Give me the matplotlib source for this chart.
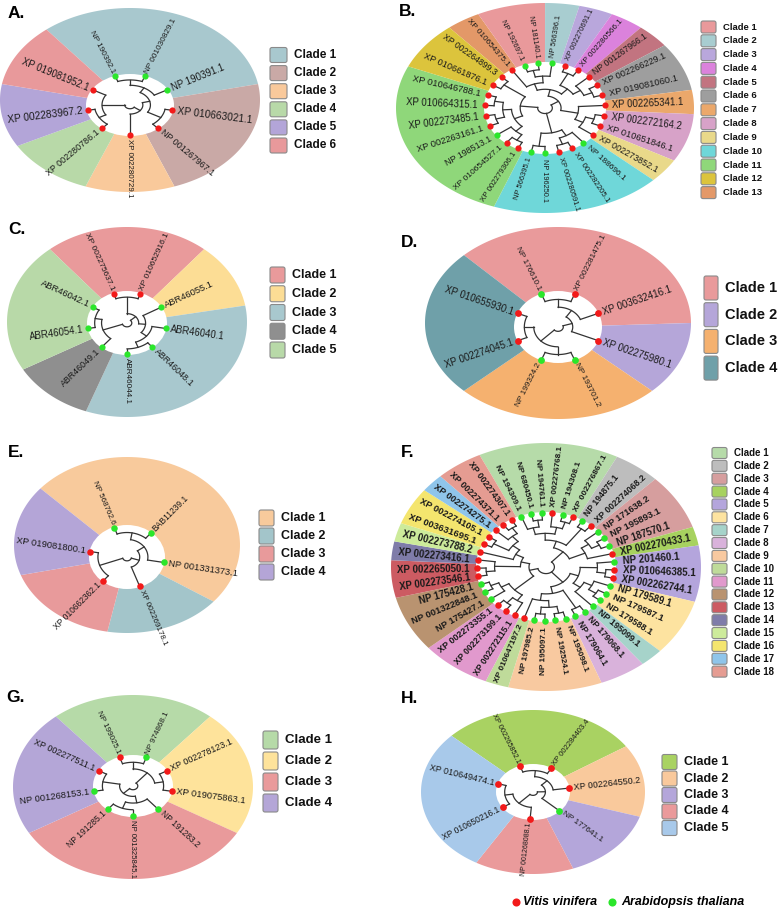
import numpy as np
import matplotlib.pyplot as plt
from matplotlib.patches import Polygon, Ellipse, FancyBboxPatch

plt.rcParams['font.family'] = ['Liberation Sans', 'DejaVu Sans']

# 物种颜色: V = Vitis vinifera, A = Arabidopsis thaliana
SP_COLOR = {'V': '#F21A1A', 'A': '#2BE62B'}
NARROW = ['Liberation Sans Narrow', 'Liberation Sans', 'DejaVu Sans']

# ---------------- A ----------------
a_labels = ['NP 190392.1', 'NP 001030829.1', 'NP 190391.1', 'XP 010663021.1', 'NP 001267967.1',
            'XP 002280729.1', 'XP 002280786.1', 'XP 002283967.2', 'XP 019081952.1']
a_species = 'AAAVVVVVV'
a_clades = [1, 1, 1, 2, 2, 3, 4, 5, 6]
a_colors = ['#A8C8CE', '#C9A9A6', '#F9C99B', '#B8D9A8', '#B3A5D8', '#E8999B']
a_tree = (((((0, 1), 2), (3, 4)), 5), ((6, 7), 8))

# ---------------- B ----------------
b_labels = ['XP 010654375.1', 'NP 192697.1', 'NP 181140.1', 'NP 566396.1', 'XP 002270691.1',
            'XP 002280566.1', 'NP 001267966.1', 'XP 002266229.1', 'XP 019081060.1', 'XP 002265341.1',
            'XP 002272164.2', 'XP 010651846.1', 'XP 002273852.1', 'NP 188696.1', 'XP 002282205.1',
            'XP 002280591.1', 'NP 196250.1', 'NP 566395.1', 'XP 002279306.1', 'XP 010654527.1',
            'NP 198513.1', 'XP 002263161.1', 'XP 002273485.1', 'XP 010664315.1', 'XP 010646788.1',
            'XP 010661876.1', 'XP 002264899.3']
b_species = 'VAAAVVVVVVVVVAVVAAVVAVVVVVV'
b_clades = [13, 1, 1, 2, 3, 4, 5, 6, 6, 7, 8, 8, 9, 10, 10, 10, 10, 10,
            11, 11, 11, 11, 11, 11, 11, 12, 12]
b_colors = ['#E9999B', '#A8CDD0', '#B9A7DC', '#DB82DC', '#C27480', '#9E9E9E', '#EBA86B',
            '#D7A2C8', '#E9D98A', '#6FD7D9', '#8FD77A', '#DCC43C', '#E39868']
b_tree = ((((0, ((1, 2), 3)), ((4, 5), (6, (7, 8)))), (9, ((10, 11), 12))),
          ((13, (14, 15)), (16, 17)),
          ((((18, 19), 20), ((21, 22), (23, 24))), (25, 26)))

# ---------------- C ----------------
c_labels = ['XP 002275637.1', 'XP 010652916.1', 'ABR46055.1', 'ABR46040.1', 'ABR46048.1',
            'ABR46044.1', 'ABR46049.1', 'ABR46054.1', 'ABR46042.1']
c_species = 'VVAAAAAAA'
c_clades = [1, 1, 2, 3, 3, 3, 4, 5, 5]
c_colors = ['#E99A9B', '#FCDD95', '#A8C8CE', '#8F8F8F', '#B8D9A8']
c_tree = (((0, 1), (2, (3, (4, 5)))), (6, (7, 8)))

# ---------------- D ----------------
d_labels = ['NP 176610.1', 'XP 002281475.1', 'XP 003632416.1', 'XP 002275980.1', 'NP 193701.2',
            'NP 199324.2', 'XP 002274045.1', 'XP 010655930.1']
d_species = 'AVVVAAVV'
d_clades = [1, 1, 1, 2, 3, 3, 4, 4]
d_colors = ['#E99A9B', '#B5A6D9', '#F5B16F', '#6FA0A9']
d_tree = ((((0, 1), 2), 3), ((4, 5), (6, 7)))

# ---------------- E ----------------
e_labels = ['NP 568762.6', 'BAB11239.1', 'NP 001331373.1', 'XP 002269178.1', 'XP 010662362.1',
            'XP 019081800.1']
e_species = 'AAAVVV'
e_clades = [1, 1, 1, 2, 3, 4]
e_colors = ['#F8CA9C', '#A3C5CA', '#E89A9B', '#B4A5D7']
e_tree = ((((0, 1), 2), 3), (4, 5))

# ---------------- F ----------------
f_labels = ['NP 194309.1', 'NP 680450.1', 'NP 194761.1', 'XP 002276768.1', 'NP 194308.1',
            'XP 002276867.1', 'NP 194875.1', 'XP 002274068.2', 'NP 171638.2', 'NP 195893.1',
            'NP 187570.1', 'XP 002270433.1', 'NP 201460.1', 'XP 010646385.1', 'XP 002262744.1',
            'NP 179589.1', 'NP 179587.1', 'NP 179588.1', 'NP 195099.1', 'NP 179068.1',
            'NP 179064.1', 'NP 195098.1', 'NP 192524.1', 'NP 195097.1', 'NP 197985.2',
            'XP 010647197.2', 'XP 002272115.1', 'XP 002273199.1', 'XP 002273355.1', 'NP 175427.1',
            'NP 001322848.1', 'NP 175428.1', 'XP 002273546.1', 'XP 002265050.1', 'XP 002273416.1',
            'XP 002273788.2', 'XP 003631695.1', 'XP 002274105.1', 'XP 002274275.1', 'XP 002274371.1',
            'XP 002274307.1']
f_species = 'AAAVAVAVAAAVAVVAAAAAAAAAAVVVVAAAVVVVVVVVV'
f_clades = [1, 1, 1, 1, 1, 1, 2, 2, 3, 3, 3, 4, 5, 5, 5, 6, 6, 6, 7, 8, 8, 9, 9, 9, 9,
            10, 11, 11, 11, 12, 12, 12, 13, 13, 14, 15, 16, 16, 17, 18, 18]
f_colors = ['#B6DBA9', '#BDBDBD', '#D69E9E', '#A7D25F', '#B4A5DC', '#FDE3A0', '#A6D3CA',
            '#D9B2DB', '#F8C9A0', '#BFDB9A', '#E199CD', '#B99370', '#CC5B62', '#7F7CA9',
            '#CDEB9B', '#F4E56E', '#8FC5EA', '#E59C92']
f_tree = (((((0, (1, 2)), (3, (4, 5))), (6, 7)), ((8, (9, 10)), 11)),
          (((12, (13, 14)), ((15, (16, 17)), 18)), ((19, 20), (((21, 22), (23, 24)), 25))),
          (((26, (27, 28)), (29, (30, 31))),
           (((32, 33), 34), (35, ((36, 37), (38, (39, 40)))))))

# ---------------- G ----------------
g_labels = ['NP 199025.1', 'NP 974868.1', 'XP 002278123.1', 'XP 019075863.1', 'NP 191283.2',
            'NP 001325845.1', 'NP 191285.1', 'NP 001268153.1', 'XP 002277511.1']
g_species = 'VAVVAAAAV'
g_clades = [1, 1, 2, 2, 3, 3, 3, 4, 4]
g_colors = ['#B6DAA8', '#FEE39B', '#E99A9B', '#B4A6D7']
g_tree = (((0, 1), (2, 3)), ((4, (5, 6)), (7, 8)))

# ---------------- H ----------------
h_labels = ['XP 002265852.1', 'XP 002284403.4', 'XP 002264550.2', 'NP 177641.1', 'NP 001268088.1',
            'XP 010650216.1', 'XP 010649474.1']
h_species = 'VVVAVVV'
h_clades = [1, 1, 2, 3, 4, 5, 5]
h_colors = ['#A9D262', '#F9C99C', '#B4A6DA', '#EA9A9B', '#A8C9EA']
h_tree = ((((0, 1), 2), 3), (4, (5, 6)))

# 版面布局 (像素坐标)
# cx, cy, rx, ry: 外圈; cyi, rxi, ryi: 内圈; start: 第一个叶子的角度
LAYOUT = {
    'A': dict(cx=130, cy=100, rx=130, ry=92, cyi=105, rxi=44, ryi=31, start=110, fs=7.3, fw='normal', dot=20,
              lx=270, ly=55, ldy=18.1, lw=17, lh=15, lfs=8.5, lfam=None, px=8, py=6),
    'B': dict(cx=545, cy=108, rx=149, ry=105, cyi=108, rxi=61, ryi=46, start=123.3, fs=6.9, fw='normal', dot=20,
              lx=701, ly=27, ldy=13.8, lw=15, lh=12, lfs=6.8, lfam=None, px=399, py=4),
    'C': dict(cx=127, cy=322, rx=120, ry=95, cyi=323, rxi=40, ryi=32, start=110, fs=7.0, fw='normal', dot=20,
              lx=270, ly=275, ldy=18.75, lw=15, lh=16, lfs=9, lfam=NARROW, px=8, py=222),
    'D': dict(cx=558, cy=323, rx=133, ry=96, cyi=327, rxi=44, ryi=36, start=112.5, fs=7.2, fw='normal', dot=24,
              lx=704, ly=288, ldy=26.7, lw=14, lh=24, lfs=10.5, lfam=NARROW, px=401, py=235),
    'E': dict(cx=127, cy=545, rx=113, ry=88, cyi=557, rxi=38, ryi=32, start=110, fs=6.8, fw='normal', dot=22,
              lx=259, ly=518, ldy=18, lw=15, lh=16, lfs=9, lfam=NARROW, px=8, py=445),
    'F': dict(cx=546, cy=567, rx=155, ry=124, cyi=567, rxi=70, ryi=55, start=111, fs=7.0, fw='bold', dot=22,
              lx=712, ly=453, ldy=12.86, lw=15, lh=11, lfs=7, lfam=None, px=401, py=445),
    'G': dict(cx=133, cy=787, rx=120, ry=92, cyi=786, rxi=40, ryi=31, start=110, fs=6.8, fw='normal', dot=22,
              lx=263, ly=740, ldy=21, lw=15, lh=18, lfs=9.5, lfam=NARROW, px=6, py=690),
    'H': dict(cx=533, cy=792, rx=112, ry=82, cyi=792, rxi=37, ryi=28, start=111, fs=6.5, fw='normal', dot=24,
              lx=662, ly=762, ldy=16.5, lw=15, lh=15, lfs=9, lfam=NARROW, px=401, py=691),
}

R_LEAF = 0.98
R_ROOT = 0.12


def tree_height(t):
    if isinstance(t, int):
        return 0
    return 1 + max(tree_height(c) for c in t)


def draw_panel(ax, letter, labels, species, clades, colors, tree):
    g = LAYOUT[letter]
    cx, cy, rx, ry = g['cx'], g['cy'], g['rx'], g['ry']
    cyi, rxi, ryi = g['cyi'], g['rxi'], g['ryi']
    asp = ry / rx
    n = len(labels)
    step = 360.0 / n
    ang = [g['start'] - i * step for i in range(n)]

    def pt(r, a):
        t = np.radians(a)
        return cx + r * rxi * np.cos(t), cyi - r * ryi * np.sin(t)

    # 分支扇区
    i = 0
    while i < n:
        j = i
        while j + 1 < n and clades[j + 1] == clades[i]:
            j += 1
        th = np.radians(np.linspace(ang[i] + step / 2, ang[j] - step / 2, 80))
        xs = np.concatenate([[cx], cx + rx * np.cos(th)])
        ys = np.concatenate([[cyi], cy - ry * np.sin(th)])
        ax.add_patch(Polygon(np.column_stack([xs, ys]), closed=True,
                             fc=colors[clades[i] - 1], ec='none', zorder=1))
        i = j + 1
    ax.add_patch(Ellipse((cx, cyi), 2 * rxi, 2 * ryi, fc='white', ec='none', zorder=2))

    # 进化树
    H = tree_height(tree)
    dr = (R_LEAF - R_ROOT) / H

    def walk(t):
        if isinstance(t, int):
            return ang[t], R_LEAF
        res = [walk(c) for c in t]
        r = R_LEAF - tree_height(t) * dr
        for a, rc in res:
            x0, y0 = pt(r, a)
            x1, y1 = pt(rc, a)
            ax.plot([x0, x1], [y0, y1], color='#333333', lw=0.9, zorder=3)
        th = np.linspace(res[0][0], res[-1][0], 40)
        xs, ys = pt(r, th)
        ax.plot(xs, ys, color='#333333', lw=0.9, zorder=3)
        return (res[0][0] + res[-1][0]) / 2, r

    walk(tree)

    # 叶子和标签 (原图被纵向压缩, 竖直方向的标签显得更短)
    for k, lab in enumerate(labels):
        a = ang[k]
        t = np.radians(a)
        x, y = pt(R_LEAF, a)
        ax.scatter([x], [y], s=g['dot'], color=SP_COLOR[species[k]], zorder=5, linewidths=0)
        tx, ty = pt(1.1, a)
        rot = np.degrees(np.arctan2(ryi * np.sin(t), rxi * np.cos(t)))
        if abs(rot) > 90.5:
            rot += 180
            ha = 'right'
        else:
            ha = 'left'
        shrink = np.hypot(np.cos(t), asp * np.sin(t)) ** 0.75
        ax.text(tx, ty, lab, rotation=rot, rotation_mode='anchor', ha=ha, va='center',
                fontsize=g['fs'] * shrink, fontweight=g['fw'], color='#1a1a1a', zorder=6)

    # 图例
    for k, c in enumerate(colors):
        yc = g['ly'] + k * g['ldy']
        ax.add_patch(FancyBboxPatch((g['lx'], yc - g['lh'] / 2), g['lw'], g['lh'],
                                    boxstyle='round,pad=0,rounding_size=2',
                                    fc=c, ec='#8a8a8a', lw=0.8, zorder=4))
        kw = {} if g['lfam'] is None else {'family': g['lfam']}
        ax.text(g['lx'] + g['lw'] + 7, yc, 'Clade %d' % (k + 1), fontsize=g['lfs'],
                fontweight='bold', va='center', ha='left', color='#111111', **kw)

    ax.text(g['px'], g['py'], letter + '.', fontsize=12.5, fontweight='bold', va='top', ha='left')


fig = plt.figure(figsize=(7.78, 9.09), dpi=100)
ax = fig.add_axes([0, 0, 1, 1])
ax.set_xlim(0, 778)
ax.set_ylim(909, 0)
ax.axis('off')

draw_panel(ax, 'A', a_labels, a_species, a_clades, a_colors, a_tree)
draw_panel(ax, 'B', b_labels, b_species, b_clades, b_colors, b_tree)
draw_panel(ax, 'C', c_labels, c_species, c_clades, c_colors, c_tree)
draw_panel(ax, 'D', d_labels, d_species, d_clades, d_colors, d_tree)
draw_panel(ax, 'E', e_labels, e_species, e_clades, e_colors, e_tree)
draw_panel(ax, 'F', f_labels, f_species, f_clades, f_colors, f_tree)
draw_panel(ax, 'G', g_labels, g_species, g_clades, g_colors, g_tree)
draw_panel(ax, 'H', h_labels, h_species, h_clades, h_colors, h_tree)

# 物种图例
ax.scatter([516], [902], s=34, color=SP_COLOR['V'], linewidths=0, zorder=5)
ax.text(523, 902, 'Vitis vinifera', fontsize=9, fontweight='bold', style='italic', va='center', ha='left')
ax.scatter([612], [902], s=34, color=SP_COLOR['A'], linewidths=0, zorder=5)
ax.text(621, 902, 'Arabidopsis thaliana', fontsize=9, fontweight='bold', style='italic', va='center', ha='left')

fig.savefig('out.png', dpi=100)
